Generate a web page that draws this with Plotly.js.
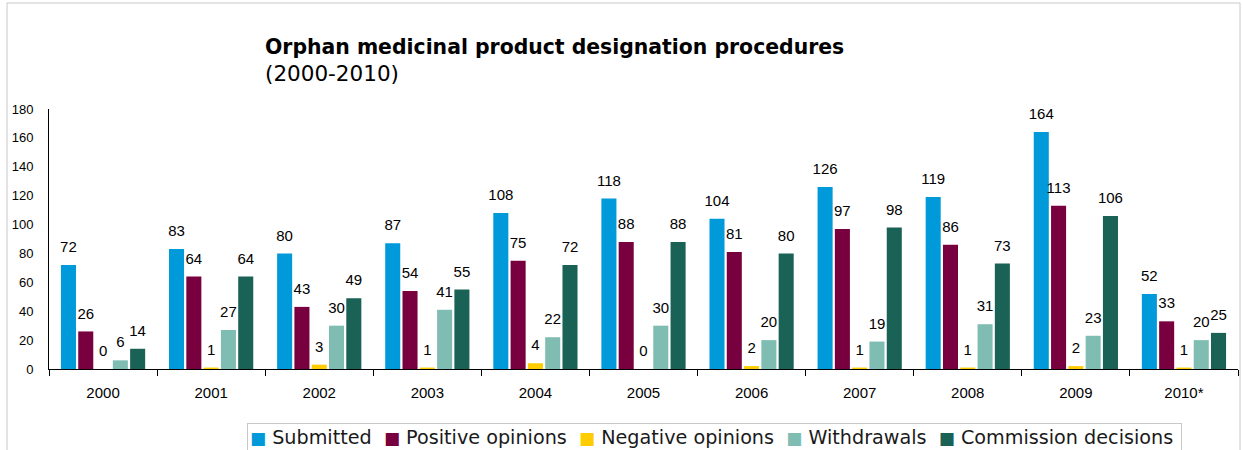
<!DOCTYPE html>
<html>
<head>
<meta charset="utf-8">
<script src="https://cdn.plot.ly/plotly-3.0.1.min.js"></script>
<style>
  html, body { margin: 0; padding: 0; background: #ffffff; }
  #chart { width: 1242px; height: 450px; }
</style>
</head>
<body>
<div id="chart"></div>
<script>
const years = ["2000", "2001", "2002", "2003", "2004", "2005", "2006", "2007", "2008", "2009", "2010*"];
const submitted = [72, 83, 80, 87, 108, 118, 104, 126, 119, 164, 52];
const positiveOpinions = [26, 64, 43, 54, 75, 88, 81, 97, 86, 113, 33];
const negativeOpinions = [0, 1, 3, 1, 4, 0, 2, 1, 1, 2, 1];
const withdrawals = [6, 27, 30, 41, 22, 30, 20, 19, 31, 23, 20];
const commissionDecisions = [14, 64, 49, 55, 72, 88, 80, 98, 73, 106, 25];
const yTicks = [0, 20, 40, 60, 80, 100, 120, 140, 160, 180];

const seriesNames = ["Submitted", "Positive opinions", "Negative opinions", "Withdrawals", "Commission decisions"];
const seriesValues = [submitted, positiveOpinions, negativeOpinions, withdrawals, commissionDecisions];
const seriesColors = ["#0099DA", "#78003F", "#FFCC00", "#7FBDB3", "#1A6156"];

const labelFont = { family: "Liberation Sans, Arial, sans-serif", size: 15, color: "#000000" };

const barTraces = seriesNames.map((name, i) => ({
  type: "bar",
  name: name,
  x: years,
  y: seriesValues[i],
  marker: { color: seriesColors[i], line: { width: 0 } },
  showlegend: false,
  hoverinfo: "x+y+name"
}));

const labelTraces = seriesNames.map((name, i) => ({
  type: "scatter",
  mode: "markers+text",
  name: name + " labels",
  x: years,
  y: seriesValues[i],
  text: seriesValues[i].map(String),
  textposition: "top center",
  textfont: labelFont,
  marker: { size: 13, color: "rgba(0,0,0,0)", line: { width: 0 } },
  cliponaxis: false,
  showlegend: false,
  hoverinfo: "skip"
}));

const legendText = seriesNames.map((n, i) =>
  '<span style="color:' + seriesColors[i] + ';font-size:17px">\u25A0</span>\u00A0' + n
).join('\u00A0\u00A0') + '\u00A0';

const layout = {
  width: 1242,
  height: 450,
  margin: { l: 49, r: 4, t: 109, b: 81, autoexpand: false },
  paper_bgcolor: "#ffffff",
  plot_bgcolor: "#ffffff",
  barmode: "group",
  bargap: 0.2,
  bargroupgap: 0.13,
  scattermode: "group",
  scattergap: 0.2,
  title: {
    text: "<b>Orphan medicinal product designation procedures</b><br><span style=\"font-size:21.5px\">(2000-2010)</span>",
    font: { family: "DejaVu Sans, Verdana, sans-serif", size: 20.4, color: "#000000" },
    x: 265 / 1242,
    xref: "container",
    xanchor: "left",
    y: 1 - 54 / 450,
    yref: "container",
    yanchor: "top"
  },
  xaxis: {
    type: "category",
    automargin: false,
    showgrid: false,
    showline: true,
    linecolor: "#000000",
    linewidth: 1,
    ticks: "outside",
    tickson: "boundaries",
    ticklen: 6,
    tickcolor: "#000000",
    tickfont: { family: "Liberation Sans, Arial, sans-serif", size: 15, color: "#000000" },
    ticklabelstandoff: 10,
    zeroline: false,
    fixedrange: true
  },
  yaxis: {
    range: [0, 180],
    automargin: false,
    tickvals: yTicks,
    ticktext: yTicks.map(String),
    showgrid: false,
    showline: true,
    linecolor: "#000000",
    linewidth: 1,
    ticks: "",
    tickfont: { family: "Liberation Sans, Arial, sans-serif", size: 13, color: "#000000" },
    ticklabelstandoff: 12,
    zeroline: false,
    fixedrange: true
  },
  showlegend: false,
  annotations: [{
    xref: "paper",
    yref: "paper",
    x: (247 - 49) / 1189,
    xanchor: "left",
    y: (369 - 423) / 260,
    yanchor: "top",
    showarrow: false,
    align: "left",
    text: legendText,
    font: { family: "DejaVu Sans, Verdana, sans-serif", size: 19.2, color: "#1A1A1A" },
    bordercolor: "#C8C8C8",
    borderwidth: 1,
    borderpad: 2,
    bgcolor: "#ffffff"
  }],
  shapes: [{
    type: "rect",
    xref: "paper",
    yref: "paper",
    x0: (7 - 49) / 1189,
    x1: (1240 - 49) / 1189,
    y0: -0.5,
    y1: (369 - 3) / 260,
    line: { color: "#C8C8C8", width: 1 },
    fillcolor: "rgba(0,0,0,0)",
    layer: "below"
  }]
};

Plotly.newPlot("chart", barTraces.concat(labelTraces), layout, { displayModeBar: false, staticPlot: true });
</script>
</body>
</html>
